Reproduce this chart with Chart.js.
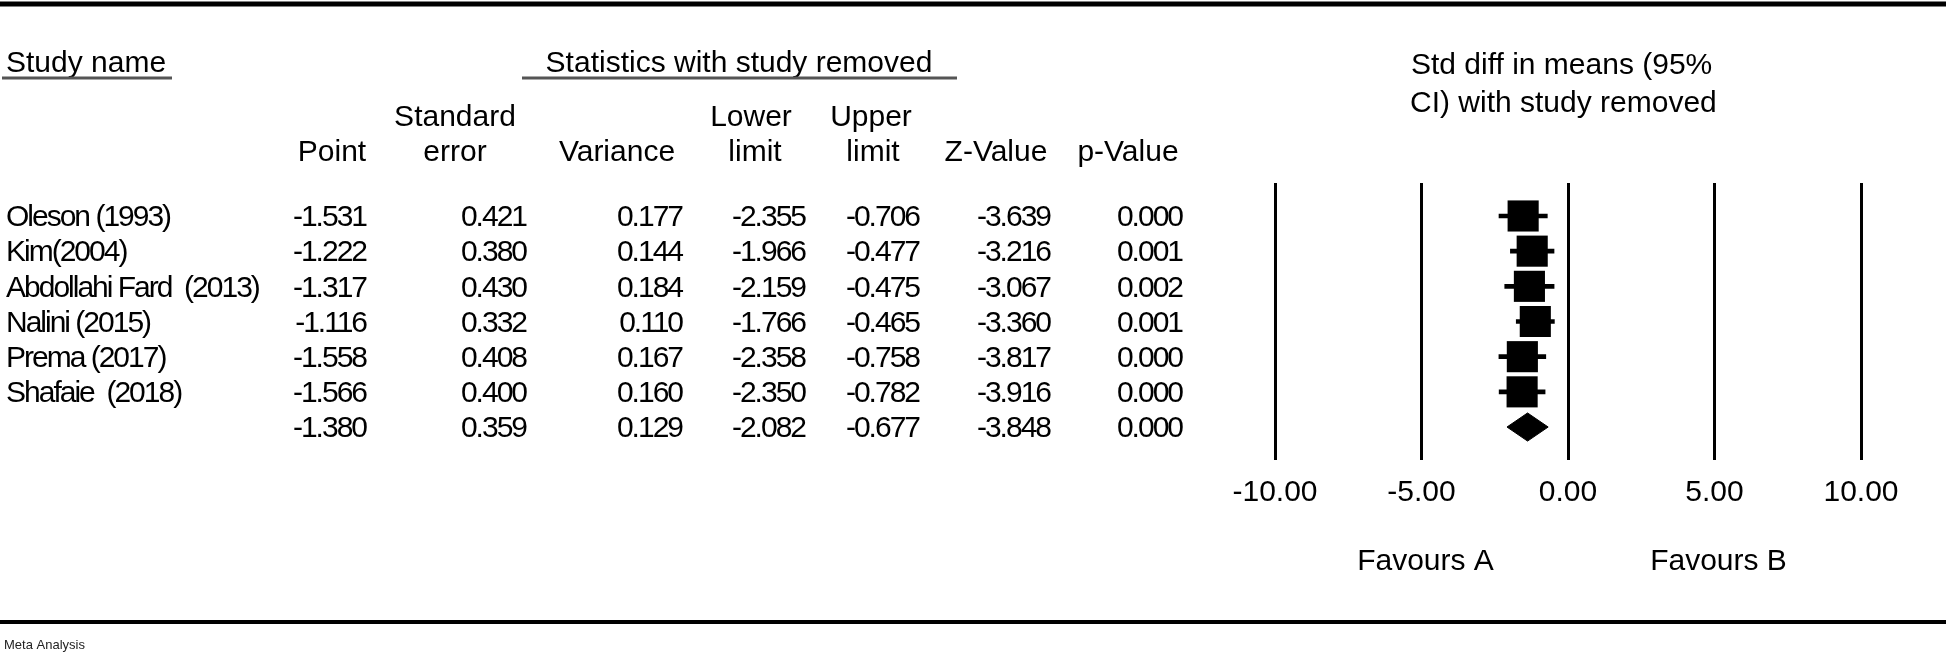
<!DOCTYPE html>
<html>
<head>
<meta charset="utf-8">
<title>Meta Analysis</title>
<script src="https://cdn.jsdelivr.net/npm/chart.js@4.4.1/dist/chart.umd.min.js"></script>
<style>
    html, body { margin: 0; padding: 0; background: #ffffff; }
    canvas { display: block; }
</style>
</head>
<body>
<canvas id="forestChart" width="1946" height="655"></canvas>
<script>
// 데이터 (study removed)
const studyNames = ['Oleson (1993)', 'Kim(2004)', 'Abdollahi Fard  (2013)', 'Nalini (2015)', 'Prema (2017)', 'Shafaie  (2018)', ''];
const pointValues = [-1.531, -1.222, -1.317, -1.116, -1.558, -1.566, -1.380];
const stdErrors = [0.421, 0.380, 0.430, 0.332, 0.408, 0.400, 0.359];
const variances = [0.177, 0.144, 0.184, 0.110, 0.167, 0.160, 0.129];
const lowerLimits = [-2.355, -1.966, -2.159, -1.766, -2.358, -2.350, -2.082];
const upperLimits = [-0.706, -0.477, -0.475, -0.465, -0.758, -0.782, -0.677];
const zValues = [-3.639, -3.216, -3.067, -3.360, -3.817, -3.916, -3.848];
const pValues = [0.000, 0.001, 0.002, 0.001, 0.000, 0.000, 0.000];
const xTickValues = [-10, -5, 0, 5, 10];
const favourLabels = [{ value: -5, text: 'Favours A' }, { value: 5, text: 'Favours B' }];

const FONT = '"Liberation Sans", Arial, sans-serif';
const summaryIndex = studyNames.length - 1;

let forestChartInstance = null;

document.addEventListener("DOMContentLoaded", () => {
    renderForestChart();
});

// 표 + 제목 + 구분선 그리기
const tablePlugin = {
    id: 'tableText',
    afterDraw(chart) {
        const ctx = chart.ctx;
        const yScale = chart.scales.y;
        const xScale = chart.scales.x;
        const W = chart.width;

        ctx.save();
        ctx.fillStyle = '#000';
        ctx.strokeStyle = '#000';

        // top / bottom rules
        ctx.lineWidth = 5;
        ctx.beginPath();
        ctx.moveTo(0, 4); ctx.lineTo(W, 4);
        ctx.stroke();
        ctx.lineWidth = 4;
        ctx.beginPath();
        ctx.moveTo(0, 622); ctx.lineTo(W, 622);
        ctx.stroke();

        ctx.font = '13px ' + FONT;
        ctx.textBaseline = 'middle';
        ctx.textAlign = 'left';
        ctx.fillStyle = '#222';
        ctx.fillText('Meta Analysis', 4, 645);
        ctx.fillStyle = '#000';

        // headers
        ctx.font = '30px ' + FONT;
        ctx.fillText('Study name', 6, 64);
        ctx.textAlign = 'center';
        ctx.fillText('Statistics with study removed', 739, 64);
        ctx.textAlign = 'left';
        ctx.fillText('Std diff in means (95%', 1411, 66);
        ctx.fillText('CI) with study removed', 1410, 104);

        // underlines
        ctx.strokeStyle = '#555';
        ctx.lineWidth = 3;
        ctx.beginPath();
        ctx.moveTo(2, 78); ctx.lineTo(172, 78);
        ctx.moveTo(522, 78); ctx.lineTo(957, 78);
        ctx.stroke();

        ctx.textAlign = 'center';
        const headerTop = [['Standard', 455], ['Lower', 751], ['Upper', 871]];
        headerTop.forEach(([t, cx]) => ctx.fillText(t, cx, 118));
        const headerBottom = [['Point', 332], ['error', 455], ['Variance', 617], ['limit', 755], ['limit', 873], ['Z-Value', 996], ['p-Value', 1128]];
        headerBottom.forEach(([t, cx]) => ctx.fillText(t, cx, 153));

        // rows (tight spacing like the original)
        ctx.font = '30px ' + FONT;
        if ('letterSpacing' in ctx) ctx.letterSpacing = '-2px';
        const columns = [
            { values: pointValues, right: 366 },
            { values: stdErrors, right: 526 },
            { values: variances, right: 682 },
            { values: lowerLimits, right: 805 },
            { values: upperLimits, right: 919 },
            { values: zValues, right: 1050 },
            { values: pValues, right: 1182 }
        ];
        studyNames.forEach((name, i) => {
            const rowY = yScale.getPixelForValue(i) + 2;
            ctx.textAlign = 'left';
            ctx.fillText(name, 6, rowY);
            ctx.textAlign = 'right';
            columns.forEach(col => ctx.fillText(col.values[i].toFixed(3), col.right, rowY));
        });
        if ('letterSpacing' in ctx) ctx.letterSpacing = '0px';

        // favours labels
        ctx.font = '30px ' + FONT;
        ctx.textAlign = 'center';
        favourLabels.forEach(f => ctx.fillText(f.text, xScale.getPixelForValue(f.value) + 4, 562));

        ctx.restore();
    }
};

function renderForestChart() {
    const ctx = document.getElementById('forestChart').getContext('2d');

    if (forestChartInstance) {
        forestChartInstance.destroy();
    }

    const studyIdx = studyNames.map((_, i) => i).filter(i => i !== summaryIndex);

    // CI whiskers (floating bars)
    const whiskerData = studyIdx.map(i => ({ y: i, x: [lowerLimits[i], upperLimits[i]] }));
    // point boxes
    const boxData = studyIdx.map(i => ({ x: pointValues[i], y: i }));
    // summary diamond
    const s = summaryIndex;
    const diamondData = [
        { x: lowerLimits[s], y: s },
        { x: pointValues[s], y: s - 0.4 },
        { x: upperLimits[s], y: s },
        { x: pointValues[s], y: s + 0.4 },
        { x: lowerLimits[s], y: s }
    ];

    forestChartInstance = new Chart(ctx, {
        type: 'scatter',
        data: {
            datasets: [
                {
                    type: 'bar',
                    indexAxis: 'y',
                    data: whiskerData,
                    backgroundColor: '#000',
                    borderWidth: 0,
                    barThickness: 4
                },
                {
                    type: 'scatter',
                    data: boxData,
                    pointStyle: 'rect',
                    pointRadius: 22,
                    pointHoverRadius: 22,
                    backgroundColor: '#000',
                    borderColor: '#000',
                    borderWidth: 0
                },
                {
                    type: 'line',
                    data: diamondData,
                    fill: 'shape',
                    backgroundColor: '#000',
                    borderColor: '#000',
                    borderWidth: 1,
                    pointRadius: 0,
                    tension: 0
                }
            ]
        },
        options: {
            responsive: false,
            animation: false,
            layout: {
                padding: { left: 1275, right: 85, top: 183, bottom: 135 }
            },
            plugins: {
                legend: { display: false },
                tooltip: { enabled: false }
            },
            scales: {
                x: {
                    type: 'linear',
                    min: -10,
                    max: 10,
                    afterBuildTicks: (scale) => {
                        scale.ticks = xTickValues.map(v => ({ value: v }));
                    },
                    afterFit: (scale) => { scale.height = 60; },
                    border: { display: false },
                    grid: {
                        color: '#000',
                        lineWidth: 3,
                        drawTicks: false
                    },
                    ticks: {
                        padding: 15,
                        color: '#000',
                        font: { family: FONT, size: 30 },
                        callback: (v) => Number(v).toFixed(2)
                    }
                },
                y: {
                    type: 'linear',
                    reverse: true,
                    min: -0.5,
                    max: 6.5,
                    display: false
                }
            }
        },
        plugins: [tablePlugin]
    });
}
</script>
</body>
</html>
